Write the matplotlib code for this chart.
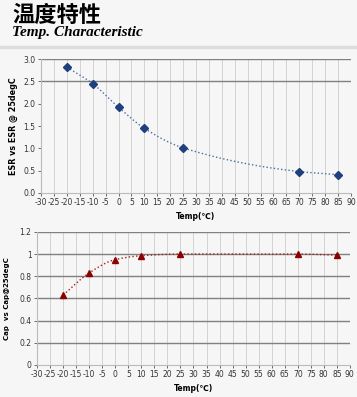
import numpy as np
import matplotlib
matplotlib.use("Agg")
import matplotlib.pyplot as plt

plt.rcParams["axes.unicode_minus"] = False

temps = [-20, -10, 0, 10, 25, 70, 85]
esr_ratio = [2.82, 2.45, 1.92, 1.45, 1.01, 0.48, 0.41]
cap_ratio = [0.63, 0.83, 0.95, 0.985, 1.0, 1.0, 0.99]

x_ticks = list(range(-30, 95, 5))
esr_ticks = [0.0, 0.5, 1.0, 1.5, 2.0, 2.5, 3.0]
cap_ticks = [0, 0.2, 0.4, 0.6, 0.8, 1, 1.2]
cap_tick_labels = ["0", "0.2", "0.4", "0.6", "0.8", "1", "1.2"]

bg = "#f6f6f6"


def smooth(x, y, n=30):
    # monotone cubic (fritsch-carlson) just for drawing the smoothed line
    x = np.asarray(x, float)
    y = np.asarray(y, float)
    h = np.diff(x)
    d = np.diff(y) / h
    m = np.zeros_like(y)
    m[0], m[-1] = d[0], d[-1]
    for i in range(1, len(x) - 1):
        if d[i - 1] * d[i] <= 0:
            m[i] = 0
        else:
            w1 = 2 * h[i] + h[i - 1]
            w2 = h[i] + 2 * h[i - 1]
            m[i] = (w1 + w2) / (w1 / d[i - 1] + w2 / d[i])
    xs, ys = [], []
    for i in range(len(x) - 1):
        t = np.linspace(0, 1, n)
        h00 = 2 * t ** 3 - 3 * t ** 2 + 1
        h10 = t ** 3 - 2 * t ** 2 + t
        h01 = -2 * t ** 3 + 3 * t ** 2
        h11 = t ** 3 - t ** 2
        xs.extend(x[i] + t * h[i])
        ys.extend(h00 * y[i] + h10 * h[i] * m[i] + h01 * y[i + 1] + h11 * h[i] * m[i + 1])
    return xs, ys


def style_axes(ax):
    ax.set_facecolor(bg)
    ax.set_xlim(-30, 90)
    ax.set_xticks(x_ticks)
    ax.tick_params(labelsize=5.5, colors="#333333", length=2, width=0.5, pad=2)
    for s in ax.spines.values():
        s.set_visible(False)
    ax.spines["bottom"].set_visible(True)
    ax.spines["bottom"].set_color("#bbbbbb")
    ax.spines["left"].set_visible(True)
    ax.spines["left"].set_color("#bbbbbb")
    for t in x_ticks:
        ax.axvline(t, color="#d2d2d2", lw=0.7, zorder=0)


fig = plt.figure(figsize=(3.57, 3.97), dpi=100, facecolor=bg)

fig.text(0.034, 0.99, "温度特性", fontsize=16, fontweight="bold",
         family=["Noto Sans CJK SC", "DejaVu Sans"], va="top", ha="left")
fig.text(0.034, 0.935, "Temp. Characteristic", fontsize=11, fontweight="bold",
         fontstyle="italic", family="Liberation Serif", va="top", ha="left")
fig.add_artist(plt.Line2D([0, 1], [0.882, 0.882], color="#dddddd", lw=2.5,
                          transform=fig.transFigure))

ax1 = fig.add_axes([0.115, 0.514, 0.868, 0.337])
style_axes(ax1)
ax1.set_ylim(0, 3.0)
ax1.set_yticks(esr_ticks)
ax1.set_yticklabels([f"{v:.1f}" for v in esr_ticks])
for v in [2.5, 3.0]:
    ax1.axhline(v, color="#808080", lw=1.0, zorder=1)
sx, sy = smooth(temps, esr_ratio)
ax1.plot(sx, sy, ls=":", color="#4a6f9a", lw=1.0, zorder=2)
ax1.plot(temps, esr_ratio, ls="none", marker="D", ms=4, color="#1f3f7f", zorder=3)
ax1.set_ylabel("ESR vs ESR @ 25degC", fontsize=5.8, fontweight="bold", labelpad=4)
ax1.set_xlabel("Temp(℃)", fontsize=5.5, fontweight="bold", labelpad=3,
               family=["DejaVu Sans", "Noto Sans CJK SC"])

ax2 = fig.add_axes([0.104, 0.081, 0.876, 0.335])
style_axes(ax2)
ax2.set_ylim(0, 1.2)
ax2.set_yticks(cap_ticks)
ax2.set_yticklabels(cap_tick_labels)
for v in cap_ticks[1:]:
    ax2.axhline(v, color="#808080", lw=1.0, zorder=1)
sx, sy = smooth(temps, cap_ratio)
ax2.plot(sx, sy, ls=":", color="#a02020", lw=1.0, zorder=2)
ax2.plot(temps, cap_ratio, ls="none", marker="^", ms=5, color="#8b0000", zorder=3)
ax2.set_ylabel("Cap  vs Cap@25degC", fontsize=5, fontweight="bold", labelpad=7)
ax2.set_xlabel("Temp(℃)", fontsize=5.5, fontweight="bold", labelpad=3,
               family=["DejaVu Sans", "Noto Sans CJK SC"])

fig.savefig("out.png", dpi=100, facecolor=bg)
